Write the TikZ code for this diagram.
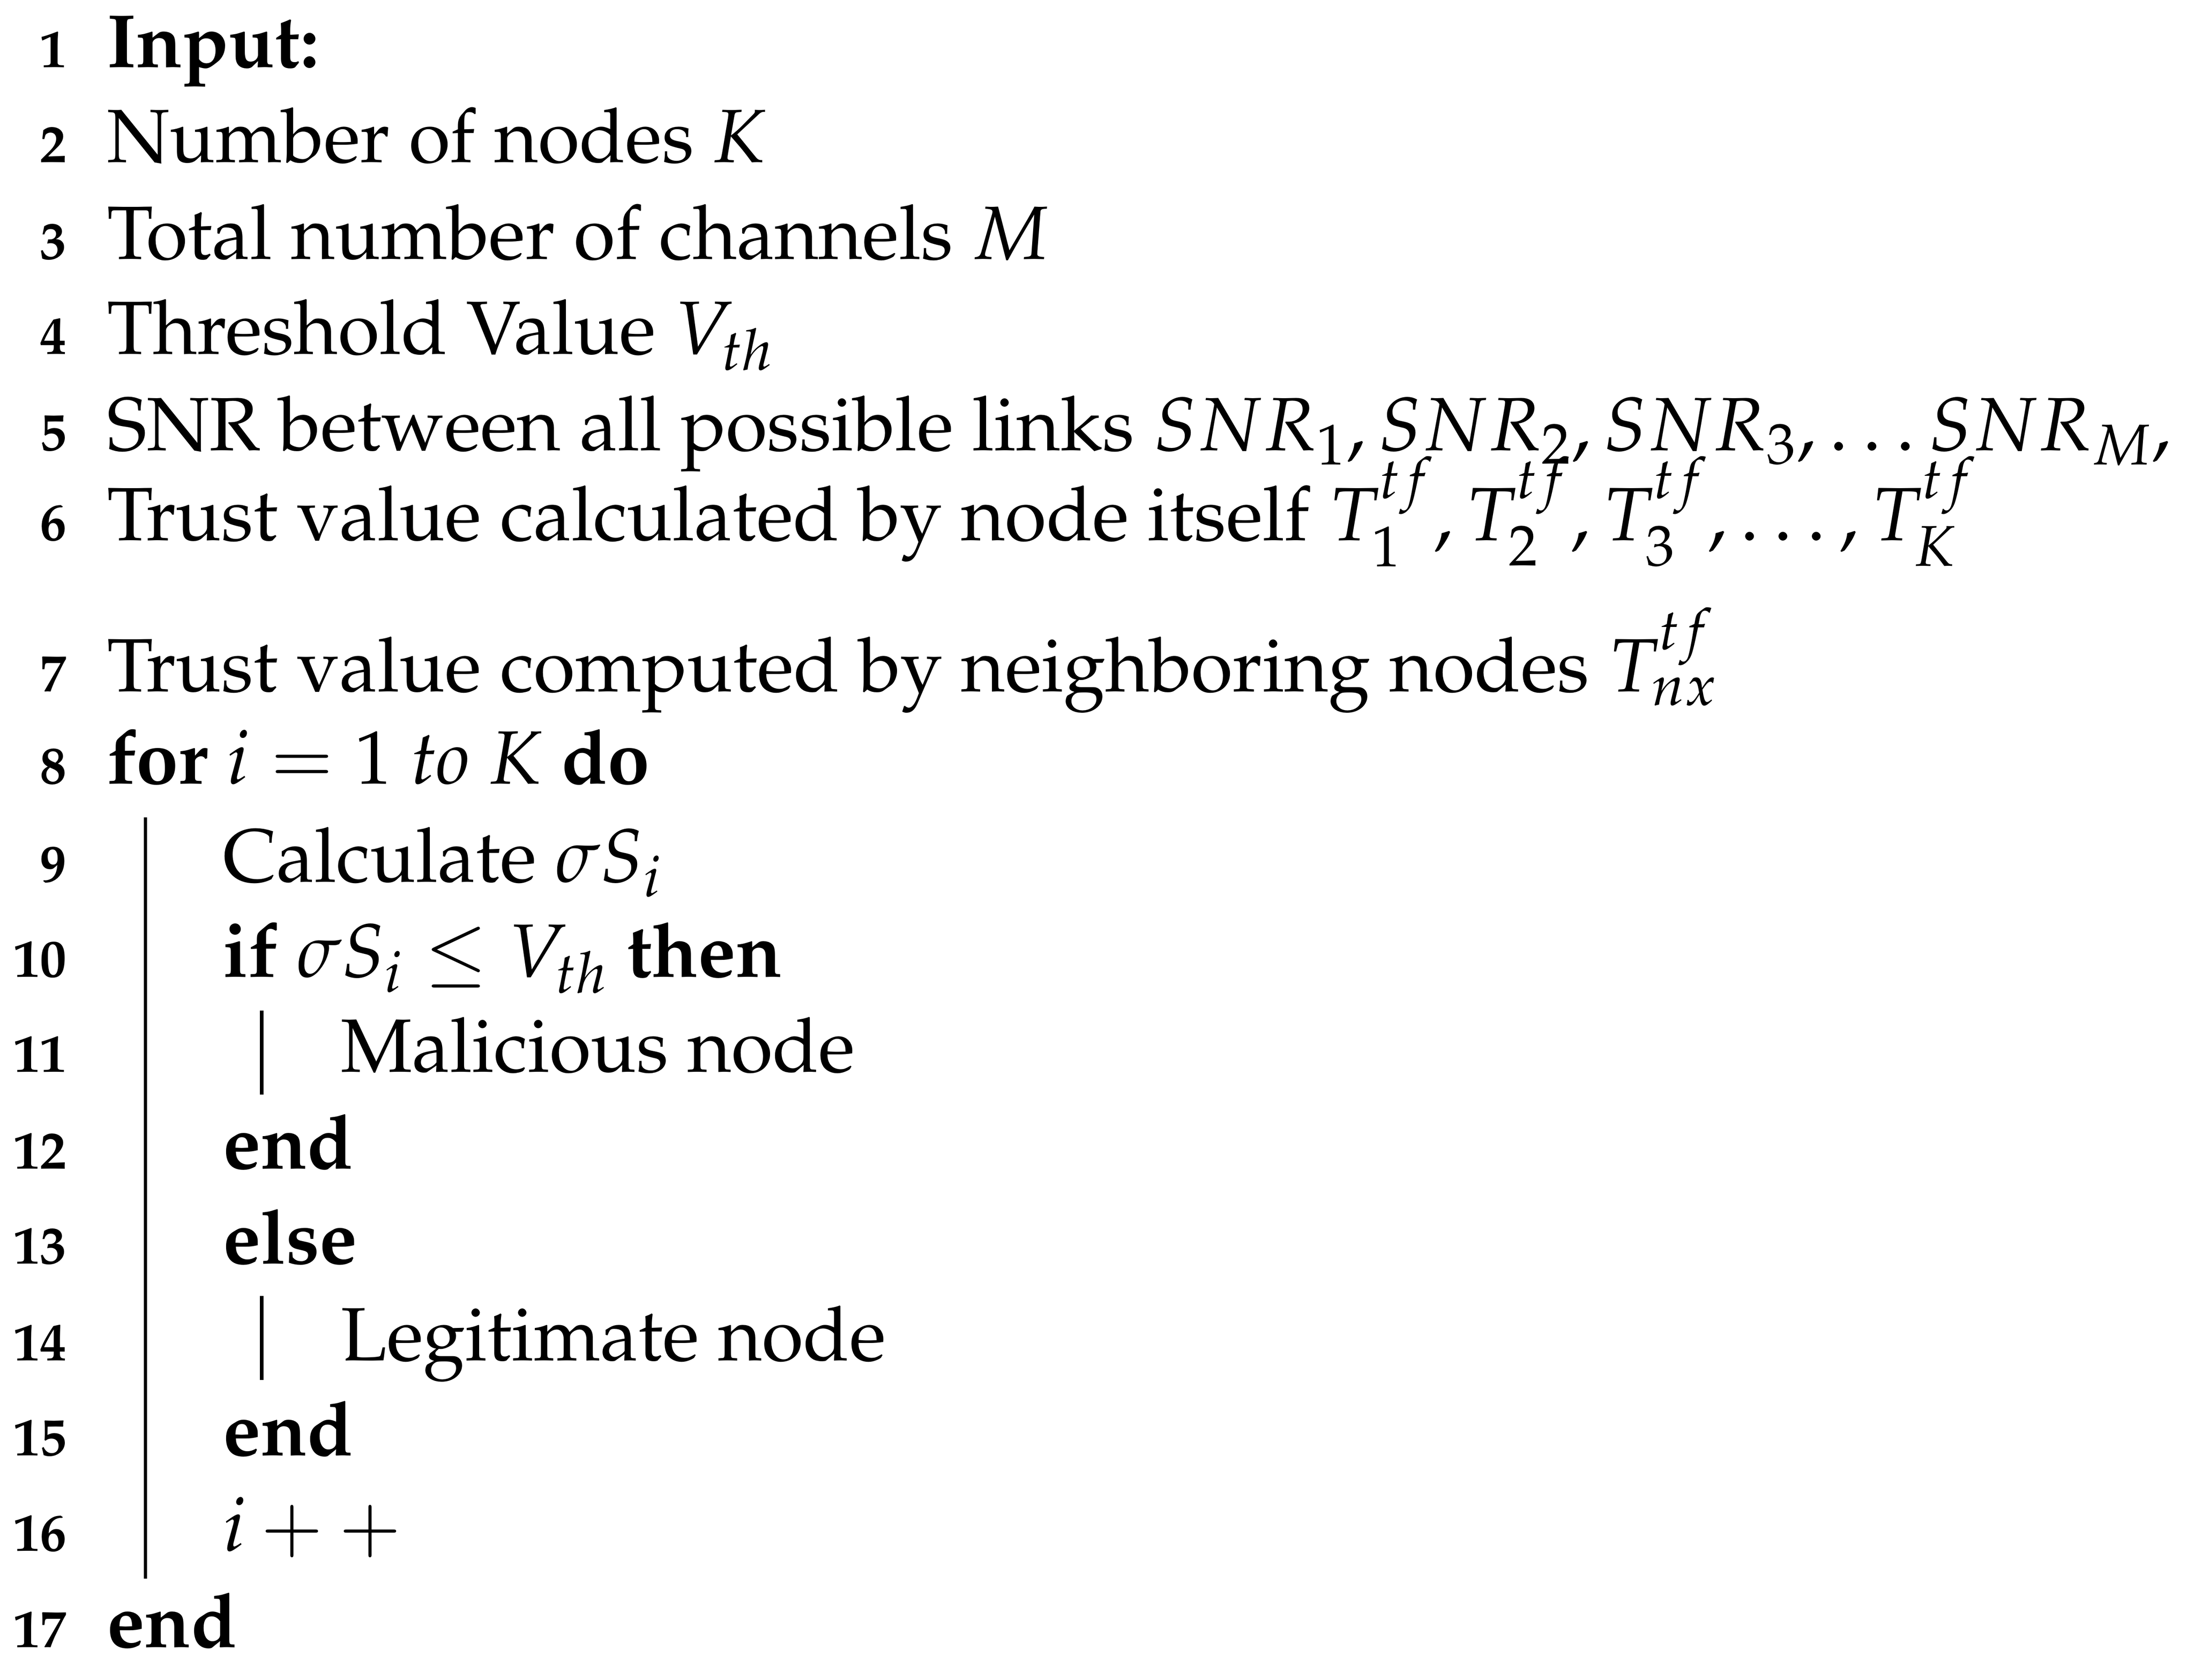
\documentclass[tikz,border=0pt]{standalone}
\usepackage[T1]{fontenc}
\usepackage{mathpazo}
\usepackage{amsmath}
\begin{document}
\begin{tikzpicture}[x=0.5pt,y=-0.5pt,
  txt/.style={anchor=base west,inner sep=0pt,font=\fontsize{27}{32}\selectfont},
  num/.style={anchor=base east,inner sep=0pt,font=\fontsize{19}{23}\selectfont\bfseries},
  bar/.style={line width=1.2pt}]
\useasboundingbox (0,0) rectangle (1568,1200);
\foreach \n/\y in {1/48,2/116,3/185,4/253,5/322,6/386,7/494,8/560,9/630,10/698,11/766,12/835,13/903,14/972,15/1040,16/1108,17/1177}
  \node[num] (n\n) at (48,\y) {\n};
\node[txt] (l1) at (76,48) {\textbf{Input:}};
\node[txt] (l2) at (76,116) {Number of nodes $K$};
\node[txt] (l3) at (76,185) {Total number of channels $M$};
\node[txt] (l4) at (76,253) {Threshold Value $V_{th}$};
\node[txt] (l5) at (76,322) {SNR between all possible links $SNR_1, SNR_2, SNR_3, \ldots SNR_M,$};
\node[txt] (l6) at (76,386) {Trust value calculated by node itself $T_1^{tf}, T_2^{tf}, T_3^{tf}, \ldots, T_K^{tf}$};
\node[txt] (l7) at (76,494) {Trust value computed by neighboring nodes $T_{nx}^{tf}$};
\node[txt] (l8) at (76,560) {\textbf{for} $i=1$ \textit{to} $K$ \textbf{do}};
\node[txt] (l9) at (159,630) {Calculate $\sigma S_i$};
\node[txt] (l10) at (159,698) {\textbf{if} $\sigma S_i \leq V_{th}$ \textbf{then}};
\node[txt] (l11) at (243,766) {Malicious node};
\node[txt] (l12) at (159,835) {\textbf{end}};
\node[txt] (l13) at (159,903) {\textbf{else}};
\node[txt] (l14) at (243,972) {Legitimate node};
\node[txt] (l15) at (159,1040) {\textbf{end}};
\node[txt] (l16) at (159,1108) {$i++$};
\node[txt] (l17) at (76,1177) {\textbf{end}};
\coordinate (a1) at (104,584); \coordinate (a2) at (104,1128);
\draw[bar] (a1) -- (a2);
\coordinate (b1) at (187,722); \coordinate (b2) at (187,782);
\draw[bar] (b1) -- (b2);
\coordinate (c1) at (187,926); \coordinate (c2) at (187,986);
\draw[bar] (c1) -- (c2);
\end{tikzpicture}
\end{document}
